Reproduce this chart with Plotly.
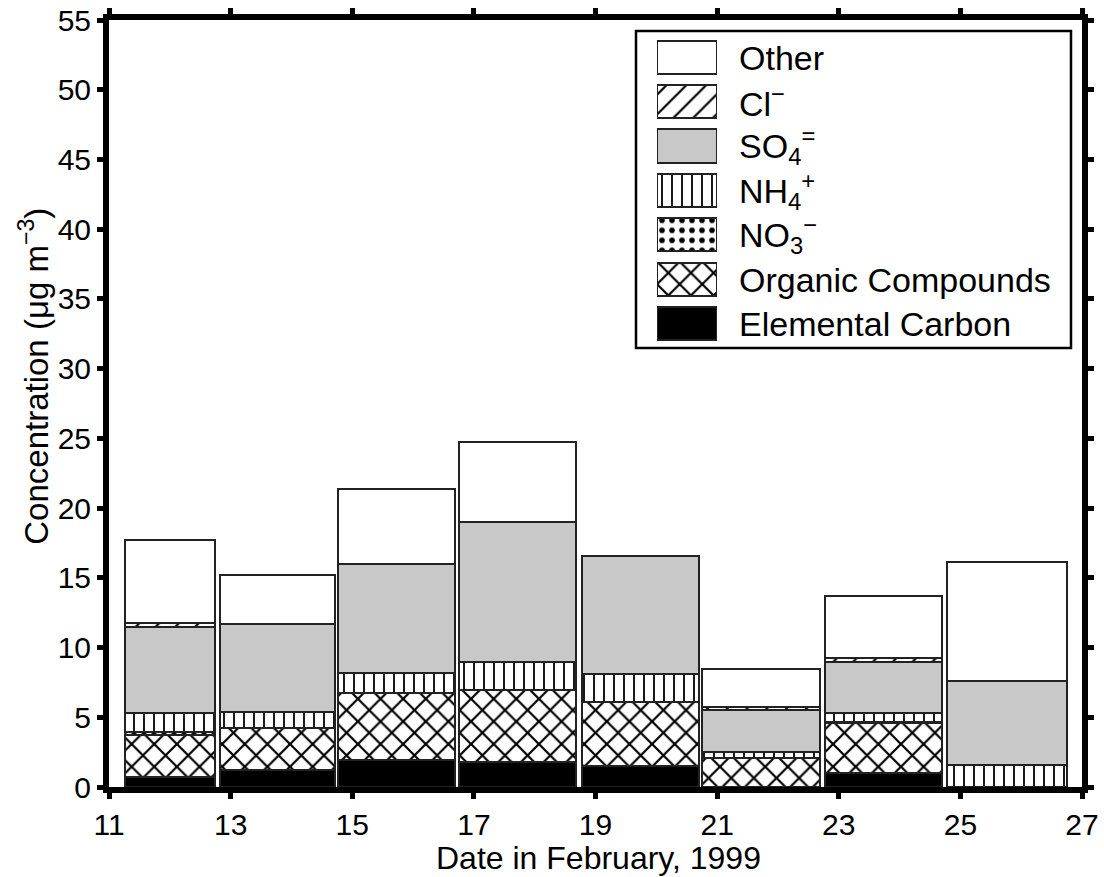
import plotly.graph_objects as go

# Sampling periods (day of February 1999) and stacked species concentrations (ug m^-3)
sample_start = [11.26, 12.83, 14.77, 16.76, 18.78, 20.75, 22.78, 24.78]
sample_end = [12.74, 14.72, 16.69, 18.68, 20.70, 22.69, 24.70, 26.76]

elemental_carbon = [0.75, 1.22, 1.95, 1.82, 1.53, None, 0.98, None]
organic = [2.98, 2.99, 4.80, 5.14, 4.55, 2.06, 3.59, None]
nitrate = [0.24, None, None, None, None, None, 0.12, None]
ammonium = [1.33, 1.19, 1.40, 1.99, 2.03, 0.43, 0.60, 1.58]
sulfate = [6.16, 6.27, 7.85, 10.04, 8.46, 3.03, 3.70, 6.04]
chloride = [0.33, None, None, None, None, 0.24, 0.24, None]
other = [5.91, 3.54, 5.36, 5.74, None, 2.68, 4.47, 8.53]

x_ticks = [11, 13, 15, 17, 19, 21, 23, 25, 27]
y_ticks = [0, 5, 10, 15, 20, 25, 30, 35, 40, 45, 50, 55]

FONT = "Liberation Sans, Arial, Helvetica, sans-serif"
OUTLINE = dict(color="#222222", width=2)

# name, values, fill colour, pattern
species = [
    ("Elemental Carbon", elemental_carbon, "black", None),
    ("Organic Compounds", organic, "white",
     dict(shape="x", fgcolor="black", bgcolor="white", fgopacity=1,
          size=16, solidity=0.26)),
    ("NO<sub>3</sub><sup>−</sup>", nitrate, "white",
     dict(shape=".", fgcolor="black", bgcolor="white", fgopacity=1,
          size=10, solidity=0.25)),
    ("NH<sub>4</sub><sup>+</sup>", ammonium, "white",
     dict(shape="|", fgcolor="black", bgcolor="white", fgopacity=1,
          size=10, solidity=0.18)),
    ("SO<sub>4</sub><sup>=</sup>", sulfate, "#c8c8c8", None),
    ("Cl<sup>−</sup>", chloride, "white",
     dict(shape="/", fgcolor="black", bgcolor="white", fgopacity=1,
          size=14, solidity=0.16)),
    ("Other", other, "white", None),
]

centers = [(a + b) / 2 for a, b in zip(sample_start, sample_end)]
widths = [b - a for a, b in zip(sample_start, sample_end)]

fig = go.Figure()

for name, vals, color, pattern in species:
    marker = dict(color=color, line=OUTLINE)
    if pattern:
        marker["pattern"] = pattern
    fig.add_trace(go.Bar(
        x=centers, y=vals, width=widths, name=name,
        marker=marker, showlegend=False,
        xaxis="x", yaxis="y",
    ))

# Key drawn as swatches on an inset axis, top entry first
key_order = [s[0] for s in species][::-1]
for name, vals, color, pattern in species:
    marker = dict(color=color, line=OUTLINE)
    if pattern:
        marker["pattern"] = pattern
    fig.add_trace(go.Bar(
        x=[1], y=[name], base=[0], orientation="h", width=0.745,
        marker=marker, showlegend=False, hoverinfo="skip",
        xaxis="x2", yaxis="y2",
    ))

key_text_x = (737 - 109) / 973
annotations = [
    dict(text=name, xref="paper", yref="y2", x=key_text_x, y=name,
         xanchor="left", yanchor="middle", showarrow=False,
         font=dict(family=FONT, size=34, color="black"))
    for name in key_order
]
annotations.append(dict(
    text="Concentration (μg m<sup>−3</sup>)", textangle=-90,
    xref="paper", yref="paper", x=-0.077, y=0.535,
    xanchor="center", yanchor="middle", showarrow=False,
    font=dict(family=FONT, size=33, color="black"),
))
annotations.append(dict(
    text="Date in February, 1999",
    xref="paper", yref="paper", x=0.503, y=-(877 - 787) / 767,
    xanchor="center", yanchor="bottom", showarrow=False, borderpad=0,
    font=dict(family=FONT, size=32, color="black"),
))

axis_common = dict(
    showgrid=False, zeroline=False, showline=True, linecolor="black",
    linewidth=6, ticks="outside", ticklen=6, tickwidth=5, tickcolor="black",
    mirror="ticks", automargin=False,
    tickfont=dict(family=FONT, size=30, color="black"),
)

fig.update_layout(
    width=1104, height=877,
    margin=dict(l=109, r=22, t=20, b=90),
    paper_bgcolor="white", plot_bgcolor="white",
    barmode="stack", bargap=0,
    xaxis=dict(range=[11, 27], tickvals=x_ticks, **axis_common),
    yaxis=dict(range=[0, 55], tickvals=y_ticks, **axis_common),
    xaxis2=dict(domain=[(657 - 109) / 973, (717 - 109) / 973], range=[0, 1],
                anchor="y2", visible=False, fixedrange=True, automargin=False),
    yaxis2=dict(domain=[(787 - 346.2) / 767, (787 - 35.3) / 767],
                type="category", categoryorder="array", categoryarray=key_order,
                autorange="reversed", anchor="x2", visible=False, fixedrange=True,
                automargin=False),
    shapes=[dict(type="rect", xref="paper", yref="paper",
                 x0=(636 - 109) / 973, x1=(1071 - 109) / 973,
                 y0=(787 - 348) / 767, y1=(787 - 31) / 767,
                 line=dict(color="black", width=2.5), fillcolor="rgba(0,0,0,0)")],
    annotations=annotations,
    showlegend=False,
)

fig.write_html("out.html")
